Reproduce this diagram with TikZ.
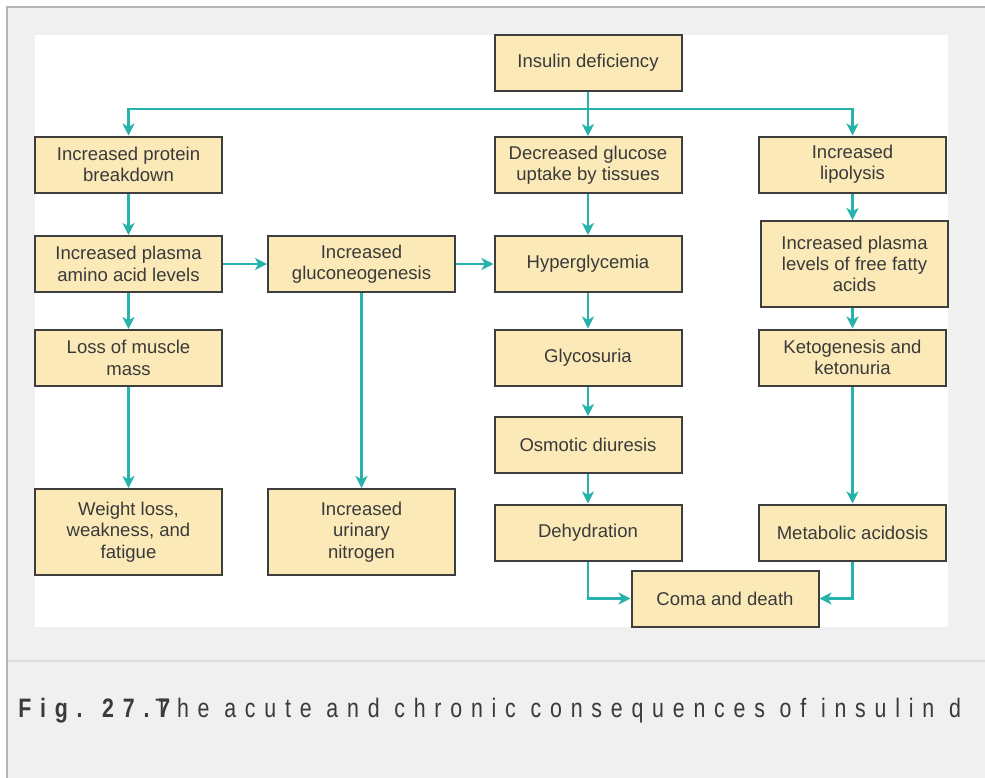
\documentclass[tikz,border=0pt]{standalone}
\usepackage{fontspec}
\setmainfont{Liberation Sans}
\newfontfamily\capfont[FakeStretch=0.8, LetterSpace=33]{Liberation Sans}
\usepackage{tikz}
\usetikzlibrary{arrows.meta}
\definecolor{boxfill}{HTML}{FBE9B8}
\definecolor{boxline}{HTML}{3E3E3E}
\definecolor{flowteal}{HTML}{27B3AC}
\definecolor{textdark}{HTML}{3A3A3A}
\definecolor{pagegray}{HTML}{F0F0F0}
\definecolor{framegray}{HTML}{B4B4B4}
\definecolor{rulegray}{HTML}{DCDCDC}
\tikzset{
  box/.style={draw=boxline, line width=1.5pt, fill=boxfill, align=center,
              font=\fontsize{13.9}{16}\selectfont, text=textdark,
              minimum width=140.25pt, minimum height=42pt, inner sep=2pt},
  tallbox/.style={box, minimum height=64.5pt},
  flow/.style={-{Stealth[length=9pt, width=9pt, inset=2.5pt]},
               line width=2.2pt, draw=flowteal},
  flowline/.style={line width=2.2pt, draw=flowteal},
  caption/.style={anchor=base west, text=textdark, inner sep=0pt,
                  font=\capfont\fontsize{20}{22}\selectfont},
}

\begin{document}
\begin{tikzpicture}[x=0.75pt, y=-0.75pt]
  % Page and frame
  \useasboundingbox (0,0) rectangle (985,778);
  \fill[white] (0,0) rectangle (985,778);
  \fill[pagegray] (7,7) rectangle (985,778);
  \draw[framegray, line width=1.5pt] (985,7) -- (7,7) -- (7,778);
  \fill[white] (35,35) rectangle (948,627);
  \draw[rulegray, line width=2pt] (8,661) -- (985,661);

  % Top
  \node[box] (ins) at (588,63) {Insulin deficiency};
  \coordinate (bus) at (588,109);

  % Protein column
  \node[box] (prot) at (128.5,164.5) {Increased protein\\breakdown};
  \node[box] (amino) at (128.5,264) {Increased plasma\\amino acid levels};
  \node[box] (muscle) at (128.5,358) {Loss of muscle\\mass};
  \node[tallbox] (weight) at (128.5,532) {Weight loss,\\weakness, and\\fatigue};

  % Gluconeogenesis column
  \node[box] (gneo) at (361.5,264) {Increased\\gluconeogenesis};
  \node[tallbox] (urine) at (361.5,532) {Increased\\urinary\\nitrogen};

  % Glucose column
  \node[box] (gluc) at (588,165) {Decreased glucose\\uptake by tissues};
  \node[box] (hyper) at (588,264) {Hyperglycemia};
  \node[box] (glyco) at (588,357.5) {Glycosuria};
  \node[box] (osmo) at (588,445) {Osmotic diuresis};
  \node[box] (dehyd) at (588,532.5) {Dehydration};
  \node[box] (coma) at (725,598.5) {Coma and death};

  % Fat column
  \node[box] (lipo) at (852.5,164.5) {Increased\\lipolysis};
  \node[tallbox] (ffa) at (854.5,264) {Increased plasma\\levels of free fatty\\acids};
  \node[box] (keto) at (852.5,357.5) {Ketogenesis and\\ketonuria};
  \node[box] (acid) at (852.5,532.5) {Metabolic acidosis};

  % Connectors
  \draw[flowline] (ins.south) -- (bus);
  \draw[flow] (bus) -| (prot.north);
  \draw[flow] (bus) -- (gluc.north);
  \draw[flow] (bus) -| (lipo.north);

  \draw[flow] (prot) -- (amino);
  \draw[flow] (amino) -- (muscle);
  \draw[flow] (muscle) -- (weight);
  \draw[flow] (amino) -- (gneo);
  \draw[flow] (gneo) -- (hyper);
  \draw[flow] (gneo) -- (urine);

  \draw[flow] (gluc) -- (hyper);
  \draw[flow] (hyper) -- (glyco);
  \draw[flow] (glyco) -- (osmo);
  \draw[flow] (osmo) -- (dehyd);

  \draw[flow] (lipo) -- (lipo |- ffa.north);
  \draw[flow] (ffa.south -| keto) -- (keto);
  \draw[flow] (keto) -- (acid);

  \draw[flow] (dehyd.south) |- (coma.west);
  \draw[flow] (acid.south) |- (coma.east);

  % Caption
  \begin{scope}
    \clip (0,0) rectangle (985,778);
    \node[caption, font=\capfont\bfseries\fontsize{20}{22}\selectfont] (fignum) at (18,717) {Fig. 27.7};
    \node[caption] (captext) at (155,717) {The acute and chronic consequences of insulin d};
  \end{scope}
\end{tikzpicture}
\end{document}
